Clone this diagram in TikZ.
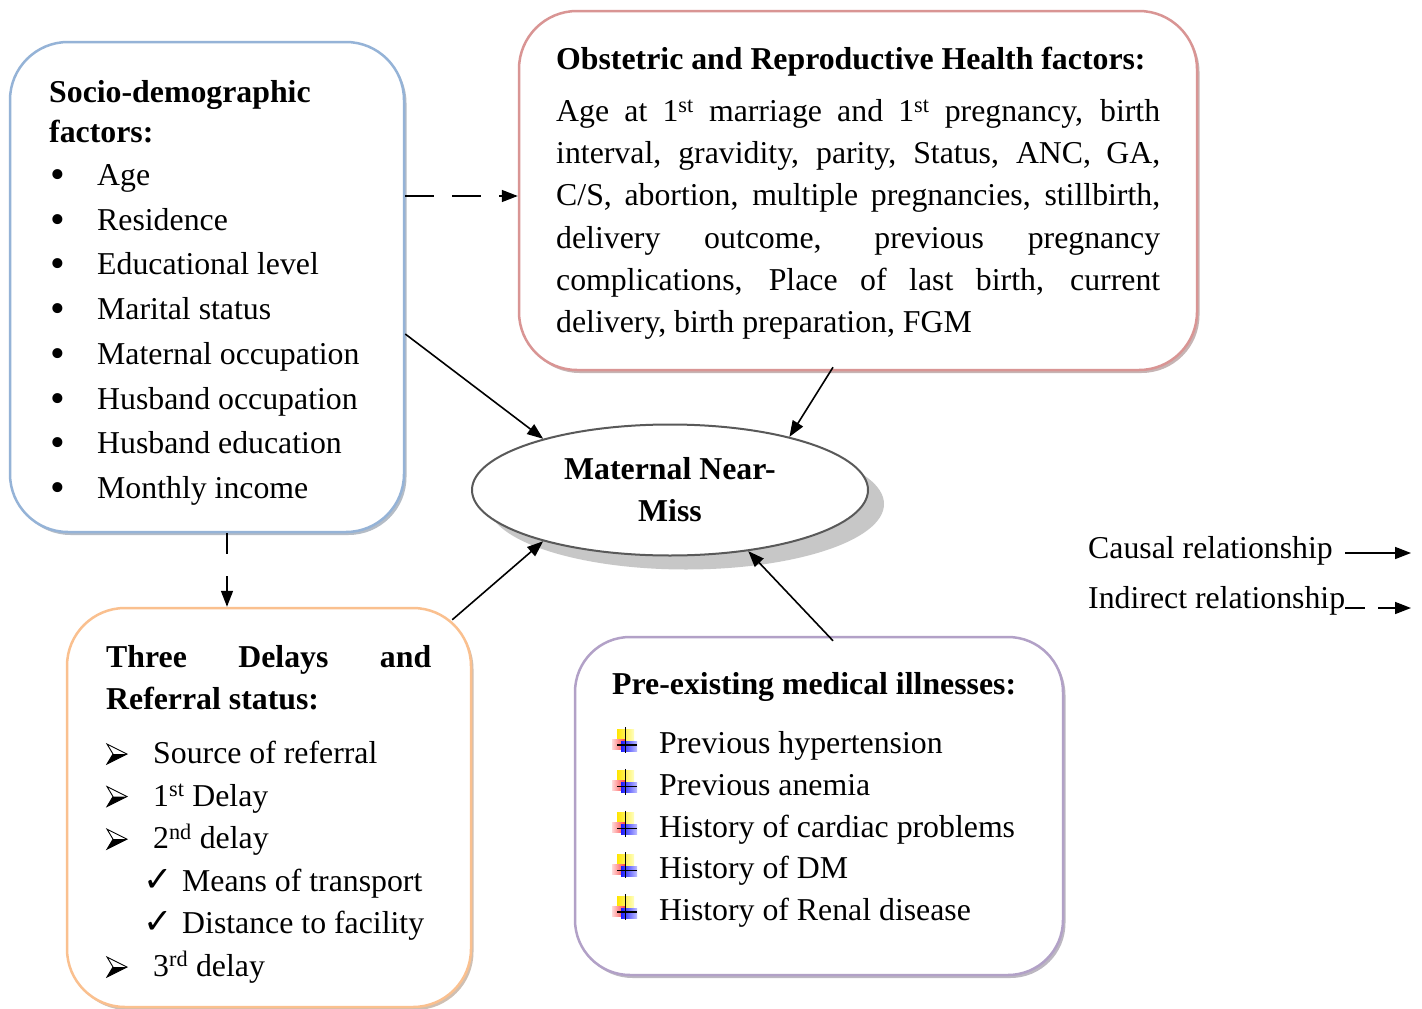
\documentclass[tikz,border=0pt]{standalone}
\usepackage{fontspec}
\setmainfont{Liberation Serif}
\newfontfamily\symf{DejaVu Sans}
\usetikzlibrary{arrows.meta,shapes.geometric,shadows}
\definecolor{socc}{HTML}{95B3D7}
\definecolor{obsc}{HTML}{D99594}
\definecolor{delc}{HTML}{FAC08F}
\definecolor{prec}{HTML}{B2A1C7}
\definecolor{ellc}{HTML}{595959}
\begin{document}
\begin{tikzpicture}[x=1pt,y=-1pt,
  every node/.style={inner sep=0pt, font=\fontsize{31.8}{40}\selectfont},
  txt/.style={anchor=base west},
  hd/.style={anchor=base west, font=\fontsize{31.8}{40}\selectfont\bfseries},
  box/.style={draw=#1, line width=2.5pt, rounded corners=58pt, fill=white,
    drop shadow={shadow xshift=2.5pt, shadow yshift=-3pt, fill=#1!60!black, opacity=0.45}},
  arr/.style={line width=1.6pt, -{Triangle[length=16pt,width=12pt]}},
  darr/.style={arr, dash pattern=on 29pt off 18pt},
  icon/.pic={
    \shade[left color=yellow!80!orange, right color=yellow!25] (5,-24) rectangle (22,-10);
    \shade[left color=red!15, right color=red!75] (0,-14) rectangle (13,-4);
    \shade[left color=blue!90, right color=blue!25] (9,-12) rectangle (25,-2);
    \draw[line width=1.4pt] (13.5,-26) -- (13.5,0);
    \draw[line width=1.4pt] (5,-8) -- (25,-8);
  },
  arrbul/.pic={
    \draw[line width=0.9pt, line join=miter] (0,-10) -- (20,0) -- (0,10) -- (6,0) -- cycle;
    \fill (6,0) -- (20,0) -- (0,10) -- cycle;
  },
]
\path[fill=white, use as bounding box] (0,0) rectangle (1422,1009);

% boxes
\node[box=socc, minimum width=394pt, minimum height=490pt] (soc) at (207,287) {};
\node[box=obsc, minimum width=678pt, minimum height=359pt] (obs) at (858,190.5) {};
\node[box=delc, minimum width=404pt, minimum height=399pt] (del) at (269,807.5) {};
\node[box=prec, minimum width=488pt, minimum height=338pt, rounded corners=55pt] (pre) at (819,806) {};

% ellipse
\node[ellipse, draw=ellc, line width=2pt, fill=white, minimum width=396pt, minimum height=131pt,
  align=center, font=\fontsize{31.8}{42}\selectfont\bfseries,
  drop shadow={shadow xshift=16pt, shadow yshift=-14pt, fill=black!22, opacity=1}]
  (mnm) at (670,490) {Maternal Near-\\Miss};

% socio text
\node[hd] (sh1) at (49,102) {Socio-demographic};
\node[hd] (sh2) at (49,142) {factors:};
\foreach \t [count=\i] in {Age, Residence, Educational level, Marital status, Maternal occupation, Husband occupation, Husband education, Monthly income}
  \node[txt] (si\i) at ({50},{185.5+44.7*(\i-1)}) {\makebox[47pt][l]{\raisebox{-3pt}{\fontsize{42}{40}\selectfont\textbullet}}\t};

% obstetric text
\node[hd] (oh) at (556,69) {Obstetric and Reproductive Health factors:};
\node[txt] (o1) at (556,121.5) {\makebox[604pt][s]{Age at 1\textsuperscript{st} marriage and 1\textsuperscript{st} pregnancy, birth}};
\node[txt] (o2) at (556,163.7) {\makebox[604pt][s]{interval, gravidity, parity, Status, ANC, GA,}};
\node[txt] (o3) at (556,205.9) {\makebox[604pt][s]{C/S, abortion, multiple pregnancies, stillbirth,}};
\node[txt] (o4) at (556,248.1) {\makebox[604pt][s]{delivery outcome, previous pregnancy}};
\node[txt] (o5) at (556,290.3) {\makebox[604pt][s]{complications, Place of last birth, current}};
\node[txt] (o6) at (556,332.5) {delivery, birth preparation, FGM};

% delays text
\node[hd] (dh1) at (106,667) {\makebox[325pt][s]{Three Delays and}};
\node[hd] (dh2) at (106,709) {Referral status:};
\pic at (107,754) {arrbul};
\node[txt] (d1) at (153,763.5) {Source of referral};
\pic at (107,796.6) {arrbul};
\node[txt] (d2) at (153,806) {1\textsuperscript{st} Delay};
\pic at (107,839.2) {arrbul};
\node[txt] (d3) at (153,848.5) {2\textsuperscript{nd} delay};
\node[txt, font=\fontsize{35}{30}\symf] (ck1) at (143,891) {✓};
\node[txt] (d4) at (182,891) {Means of transport};
\node[txt, font=\fontsize{35}{30}\symf] (ck2) at (143,933.5) {✓};
\node[txt] (d5) at (182,933.5) {Distance to facility};
\pic at (107,967) {arrbul};
\node[txt] (d6) at (153,976) {3\textsuperscript{rd} delay};

% pre-existing text
\node[hd] (ph) at (612,694.5) {Pre-existing medical illnesses:};
\foreach \t [count=\i] in {Previous hypertension, Previous anemia, History of cardiac problems, History of DM, History of Renal disease}{
  \pic at ({612},{753+41.75*(\i-1)}) {icon};
  \node[txt] (pi\i) at ({659},{753.5+41.75*(\i-1)}) {\t};
}

% connectors
\coordinate (ya) at (0,196);
\draw[darr] (soc.east |- ya) -- (obs.west |- ya);
\coordinate (dv) at ([xshift=20pt]soc.south);
\draw[darr, dash pattern=on 21pt off 22pt] (dv) -- (dv |- del.north);
\draw[arr] ([yshift=-47pt]soc.east) -- (mnm.158);
\draw[arr] ([xshift=-25pt,yshift=4pt]obs.south) -- (mnm.24);
\draw[arr] ([xshift=-20pt,yshift=-13pt]del.north east) -- (mnm.202);
\draw[arr] ([xshift=14pt,yshift=-5pt]pre.north) -- (mnm.322);

% legend
\node[txt] (lc) at (1088,558) {Causal relationship};
\node[txt] (li) at (1088,608) {Indirect relationship};
\coordinate (c1) at (1345,553);
\coordinate (c2) at (1411,553);
\coordinate (i1) at (1345,608);
\coordinate (i2) at (1411,608);
\draw[arr] (c1) -- (c2);
\draw[arr, dash pattern=on 20pt off 13pt] (i1) -- (i2);
\end{tikzpicture}
\end{document}
